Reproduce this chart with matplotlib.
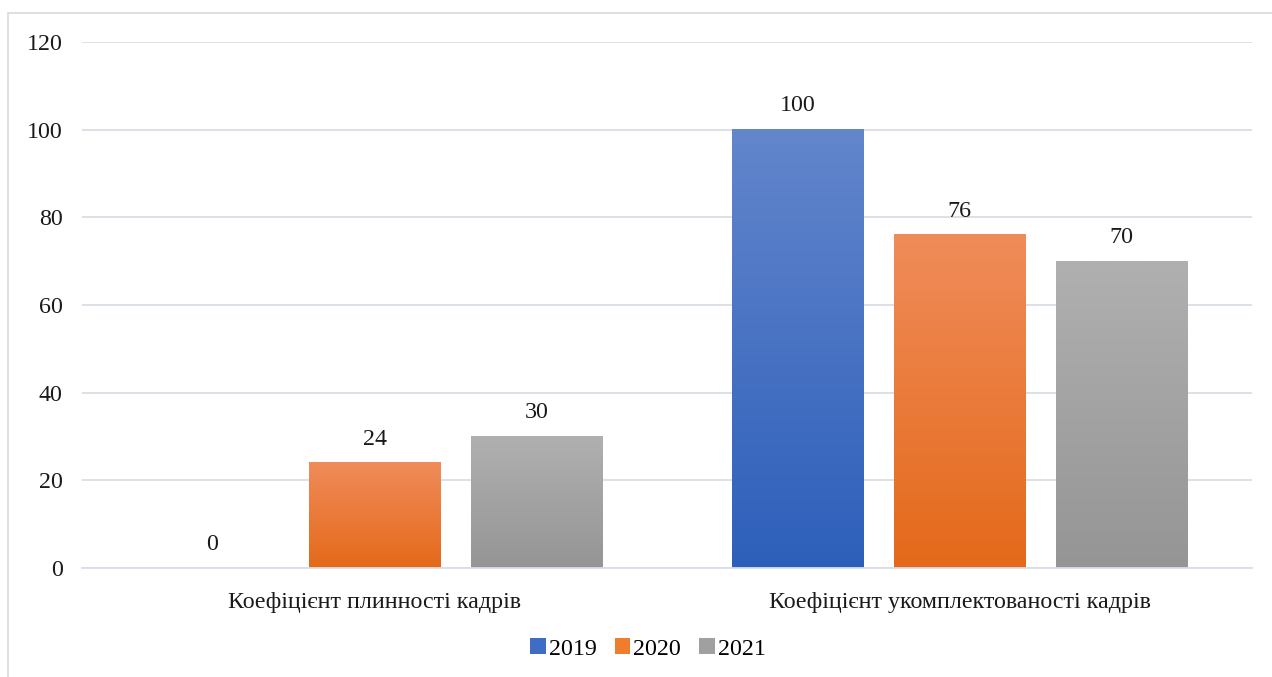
import numpy as np
import matplotlib.pyplot as plt
from matplotlib.patches import Rectangle, Patch
from matplotlib.colors import LinearSegmentedColormap

plt.rcParams['font.family'] = ['Liberation Serif', 'DejaVu Serif']

categories = ['Коефіцієнт плинності кадрів', 'Коефіцієнт укомплектованості кадрів']
years = ['2019', '2020', '2021']
values_2019 = [0, 100]
values_2020 = [24, 76]
values_2021 = [30, 70]
series = [values_2019, values_2020, values_2021]

# gradient colours (top, bottom) per year
grad = [('#6386cc', '#2d5fba'), ('#f08c5a', '#e4691a'), ('#b0b0b0', '#959595')]
solid = ['#4472c4', '#f07d2e', '#a5a5a5']
grid_col = '#d9dee6'
fs = 17.3

fig = plt.figure(figsize=(12.72, 6.77), dpi=100)
ax = fig.add_axes([82 / 1272, 1 - 568 / 677, 1170 / 1272, 526 / 677])

# outer chart frame
fig.patches.append(Rectangle((8 / 1272, -0.1), 1.2, 1 - 13 / 677 + 0.1,
                             transform=fig.transFigure, fill=False,
                             edgecolor='#d9d9d9', linewidth=1.2))

x = np.arange(len(categories))
width = 0.224
step = 0.277

ymin, ymax = 0, 120
for i, vals in enumerate(series):
    pos = x + (i - 1) * step
    bars = ax.bar(pos, vals, width, color=solid[i], zorder=2, label=years[i])
    cmap = LinearSegmentedColormap.from_list('g%d' % i, [grad[i][1], grad[i][0]])
    for b, v in zip(bars, vals):
        bx, bw = b.get_x(), b.get_width()
        if v > 0:
            img = np.linspace(0, 1, 256).reshape(-1, 1)
            ax.imshow(img, cmap=cmap, origin='lower', aspect='auto',
                      extent=(bx, bx + bw, 0, v), zorder=2.5,
                      clip_path=b, clip_on=True, vmin=0, vmax=1)
        ax.text(bx + bw / 2, v + 5.4, f'{v:g}', ha='center', va='center',
                fontsize=fs, color='#1a1a1a', zorder=4)

ax.set_xlim(-0.5, 1.5)
ax.set_ylim(ymin, ymax)
ax.set_yticks(range(0, 121, 20))
ax.set_xticks(x)
ax.set_xticklabels(categories)
ax.tick_params(axis='both', length=0, labelsize=fs, colors='#1a1a1a')
ax.tick_params(axis='y', pad=14)
ax.tick_params(axis='x', pad=17)
ax.grid(axis='y', color=grid_col, linewidth=1.3, zorder=0)
ax.set_axisbelow(True)
for s in ['top', 'right', 'left']:
    ax.spines[s].set_visible(False)
ax.spines['bottom'].set_color(grid_col)
ax.spines['bottom'].set_linewidth(1.3)

handles = [Patch(facecolor=c, edgecolor='none') for c in ['#3f6cc4', '#f07d2e', '#a0a0a0']]
fig.legend(handles, years, loc='center', bbox_to_anchor=(648 / 1272, 1 - 649 / 677),
           ncol=3, frameon=False, fontsize=fs, handlelength=0.65, handleheight=0.65,
           handletextpad=0.12, columnspacing=0.75)

fig.savefig('out.png', dpi=100, facecolor='white')
